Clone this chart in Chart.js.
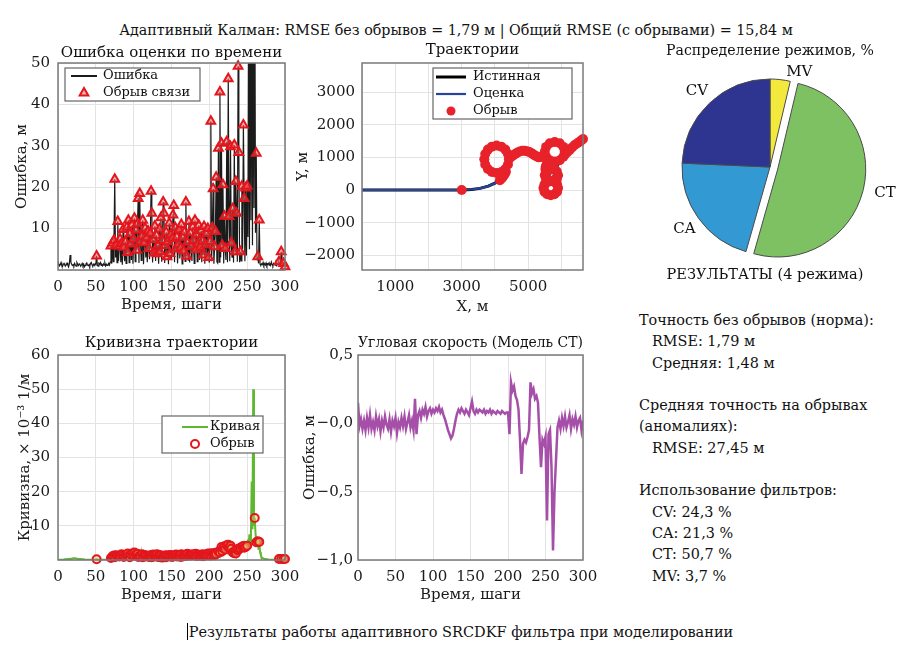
<!DOCTYPE html>
<html lang="ru">
<head>
<meta charset="utf-8">
<title>Результаты адаптивного SRCDKF фильтра</title>
<script src="https://cdn.jsdelivr.net/npm/chart.js@4.4.1/dist/chart.umd.min.js"></script>
<style>
  html, body { margin: 0; padding: 0; background: #fff; }
  body {
    position: relative; width: 912px; height: 656px; overflow: hidden;
    font-family: "DejaVu Serif", "Liberation Serif", serif; color: #111;
  }
  canvas, .txt { position: absolute; }
  .txt { white-space: pre; line-height: 18px; }
  #mainTitle { left: 0; width: 912px; top: 21px; text-align: center; font-size: 14.3px; }
  #pieTitle { left: 640px; width: 260px; top: 41px; text-align: center; font-size: 14.1px; }
  #pieNote { left: 640px; width: 250px; top: 265px; text-align: center; font-size: 14.5px; }
  #stats { left: 639px; top: 310px; font-size: 14.4px; line-height: 21.3px; }
  #stats .ind { padding-left: 13px; }
  #caption { left: 0; width: 920px; top: 623px; text-align: center; font-size: 14.5px; }
  .caret { display: inline-block; width: 1px; height: 17px; background: #000; vertical-align: -3px; margin-right: 1px; }
</style>
</head>
<body>
<div id="mainTitle" class="txt"></div>

<canvas id="errChart" width="300" height="280" style="left:0;top:38px"></canvas>
<canvas id="trajChart" width="310" height="280" style="left:290px;top:38px"></canvas>
<canvas id="pieChart" width="260" height="220" style="left:640px;top:57px"></canvas>
<div id="pieTitle" class="txt">Распределение режимов, %</div>
<div id="pieNote" class="txt">РЕЗУЛЬТАТЫ (4 режима)</div>

<canvas id="curvChart" width="300" height="280" style="left:0;top:328px"></canvas>
<canvas id="omegaChart" width="310" height="280" style="left:290px;top:328px"></canvas>
<div id="stats" class="txt"></div>

<div id="caption" class="txt"><span class="caret"></span>Результаты работы адаптивного SRCDKF фильтра при моделировании</div>

<script>
// summary numbers
const rmseClean = 1.79;
const meanClean = 1.48;
const rmseOutage = 27.45;
const rmseTotal = 15.84;

// filter modes and usage share, %
const modes = ['CV', 'CA', 'CT', 'MV'];
const modeShares = [24.3, 21.3, 50.7, 3.7];
const modeColors = ['#2e3590', '#3399d3', '#7dc163', '#f3e93c'];

// tick values
const stepTicks = [0, 50, 100, 150, 200, 250, 300];
const errTicks = [0, 10, 20, 30, 40, 50];
const trajXTicks = [0, 1000, 2000, 3000, 4000, 5000, 6000];
const trajYTicks = [-2000, -1000, 0, 1000, 2000, 3000];
const curvTicks = [0, 10, 20, 30, 40, 50, 60];
const omegaTicks = [-1, -0.5, 0, 0.5];

// estimation error per step (0..300), m
const errValues = [
  1.2,1.5,1.0,1.3,1.8,1.1,0.9,1.4,1.6,1.2,
  1.0,1.3,1.7,1.2,0.8,1.5,3.6,1.9,1.4,1.1,
  1.3,1.0,1.6,1.2,0.9,1.8,1.4,1.1,1.5,1.3,
  0.9,1.2,1.6,1.0,1.4,0.8,1.1,1.5,1.7,1.2,
  1.0,1.3,0.9,1.6,1.8,1.2,1.0,1.4,1.1,1.5,
  1.3,3.4,1.2,0.9,1.6,1.4,1.8,1.1,1.3,1.0,
  1.5,1.2,1.7,1.0,1.4,1.1,1.3,1.6,1.2,1.9,
  5.8,1.5,6.5,2.0,7.2,21.9,3.0,6.0,1.8,11.7,
  2.2,5.8,7.5,1.9,6.4,1.3,9.8,5.5,2.1,6.8,
  1.6,10.3,4.2,12.0,1.8,8.7,6.3,2.4,10.9,1.5,
  7.4,12.5,2.0,9.6,4.8,11.2,17.3,1.7,18.5,6.9,
  2.3,8.2,12.0,1.4,6.6,10.1,3.0,7.8,1.9,9.4,
  5.2,2.6,8.9,19.0,13.7,1.8,7.3,4.1,10.6,2.2,
  8.4,3.9,6.0,1.5,9.9,4.4,12.6,2.0,7.1,16.4,
  13.7,1.7,5.9,9.1,3.2,6.8,1.4,11.3,4.0,8.5,
  2.5,7.6,13.3,15.6,1.9,10.2,5.1,8.0,1.6,6.2,
  9.7,2.8,5.4,11.0,1.5,7.9,4.6,9.2,2.1,16.4,
  3.3,6.7,2.4,11.7,1.8,9.0,5.7,2.2,10.4,7.2,
  1.6,12.0,4.9,8.6,2.0,6.3,10.8,2.4,5.5,9.5,
  1.9,7.0,3.6,10.5,1.5,6.1,8.8,2.7,10.0,3.0,
  1.8,6.9,35.9,2.1,10.2,19.6,1.5,5.6,9.3,22.4,
  2.0,1.7,29.4,1.9,43.0,3.0,30.6,6.0,20.6,1.6,
  13.0,5.2,2.4,31.0,1.9,46.2,12.9,2.1,29.8,6.5,
  3.1,14.8,1.8,30.2,4.4,21.4,13.7,2.0,49.2,28.4,
  1.9,4.4,2.2,20.2,5.0,35.0,17.3,2.1,19.8,3.5,
  20.3,8.0,62.0,5.0,80.0,12.0,90.0,6.0,75.0,15.0,
  85.0,9.0,28.2,2.5,3.2,1.6,12.1,1.4,1.2,1.5,
  1.3,1.8,1.1,1.5,1.2,1.7,1.0,1.4,1.6,1.2,
  1.5,1.1,1.9,1.3,1.0,1.6,1.4,1.2,1.7,1.1,
  1.4,1.8,2.0,1.3,1.5,4.4,1.2,1.0,1.6,1.3,
  0.8
];

// steps with lost link
const outageSteps = [
  51,
  70,72,74,75,77,79, 81,82,84,86,87,89, 91,92,93,95,96,98,
  100,101,103,104,105,106,108,109, 111,112,114,115,117,119,
  120,122,123,124,126,127,128, 130,131,132,134,135,136,138,139,
  140,142,143,144,145,147,148,149, 151,152,153,155,156,157,159,
  160,162,163,165,166,167,169, 170,171,173,175,176,178,179,
  181,182,183,185,186,188,189, 191,192,193,195,196,198,199,
  201,202,204,205,207,208,209, 212,214,216,217,218,
  220,221,223,225,226,228,229, 231,233,234,235,236,238,239,
  241,243,245,246,248, 250,260,262,264,266,
  292,295,298,300
];

// trajectory curvature per step, x10^-3 1/m
const curvValues = [
  0.1,0.1,0.1,0.1,0.1,0.1,0.1,0.1,0.1,0.2,
  0.2,0.2,0.2,0.3,0.3,0.3,0.3,0.4,0.4,0.4,
  0.5,0.5,0.5,0.5,0.4,0.4,0.4,0.3,0.3,0.3,
  0.3,0.2,0.2,0.2,0.2,0.1,0.1,0.1,0.1,0.1,
  0.1,0.1,0.1,0.1,0.1,0.1,0.1,0.1,0.1,0.1,
  0.1,0.2,0.2,0.1,0.1,0.1,0.1,0.1,0.1,0.1,
  0.1,0.1,0.1,0.1,0.1,0.2,0.2,0.3,0.4,0.6,
  0.6,0.9,1.1,0.7,1.3,0.8,1.0,1.4,0.9,1.2,
  1.6,1.0,1.3,0.8,1.7,1.1,1.4,0.9,1.8,1.2,
  1.0,1.5,1.9,1.1,1.3,0.8,1.6,1.2,1.9,2.1,
  1.4,2.2,1.0,1.6,1.3,1.8,0.9,1.5,1.2,1.0,
  1.4,1.7,0.8,1.2,1.5,1.0,1.6,1.3,0.7,1.1,
  0.9,1.3,1.0,1.5,0.8,1.2,1.6,1.0,1.4,0.9,
  1.2,1.7,0.9,1.1,1.5,0.8,1.3,1.0,0.7,1.2,
  0.9,1.1,1.4,0.8,1.0,1.3,0.7,1.1,1.5,1.0,
  1.2,0.9,1.4,1.1,0.8,1.3,1.6,1.0,1.2,1.5,
  1.1,1.4,0.9,1.7,1.2,1.0,1.5,1.3,0.9,1.6,
  1.2,1.8,1.0,1.4,1.1,1.6,1.3,0.9,1.5,1.7,
  1.1,1.4,1.8,1.2,1.0,1.6,1.3,1.9,1.5,1.2,
  1.4,1.7,1.1,1.5,1.8,1.3,1.6,1.2,1.9,1.4,
  1.6,1.9,1.3,1.7,2.0,1.5,1.8,1.4,2.1,1.7,
  2.0,1.8,2.4,2.9,2.2,3.3,3.8,2.6,3.5,2.4,
  4.0,3.1,2.8,4.3,3.0,4.5,3.6,2.5,4.2,3.3,
  2.5,2.2,2.8,2.0,2.6,1.9,3.1,2.3,2.9,3.4,
  3.0,3.5,2.7,3.9,3.2,4.1,3.6,4.4,3.8,4.6,
  4.2,6.0,4.8,7.5,5.0,8.0,23.0,9.0,50.0,10.0,
  12.3,8.0,5.2,6.0,5.5,3.0,5.3,2.4,1.5,0.8,
  0.6,0.5,0.4,0.3,0.3,0.2,0.2,0.2,0.1,0.1,
  0.1,0.1,0.1,0.1,0.1,0.1,0.1,0.1,0.1,0.1,
  0.1,0.1,0.3,0.2,0.2,0.3,0.2,0.2,0.3,0.2,
  0.3
];

// angular velocity error (CT model), every 2nd step 0..300
const omegaValues = [
  0.15,-0.02,0.03,-0.04,0.02,-0.05,0.04,-0.03,0.06,-0.04,
  0.01,-0.05,0.05,-0.02,0.03,-0.06,0.02,-0.03,0.05,-0.01,
  -0.04,0.03,-0.06,0.02,-0.02,0.04,-0.07,0.01,-0.03,0.04,
  -0.02,0.05,-0.04,0.01,0.06,-0.03,0.02,-0.05,0.18,-0.08,
  0.06,0.09,0.04,0.10,0.07,0.12,0.05,0.09,0.11,0.07,
  0.10,0.08,0.11,0.09,0.12,0.08,0.10,0.06,0.03,-0.01,
  -0.05,-0.08,-0.11,-0.09,-0.04,0.02,0.07,0.10,0.08,0.11,
  0.09,0.07,0.10,0.08,0.06,0.11,0.16,0.09,0.07,0.10,
  0.08,0.10,0.09,0.08,0.10,0.07,0.09,0.08,0.10,0.07,
  0.09,0.08,0.07,0.09,0.08,0.07,0.09,0.08,0.07,0.08,
  0.08,-0.08,0.30,0.24,0.27,0.20,0.17,0.10,-0.12,-0.37,
  -0.15,-0.12,-0.14,-0.10,-0.05,0.30,0.22,0.25,0.18,0.20,
  0.15,-0.10,-0.32,-0.12,-0.15,-0.10,-0.71,-0.08,-0.05,-0.32,
  -0.93,-0.50,-0.27,-0.03,0.02,-0.04,0.04,-0.02,0.05,-0.03,
  0.01,0.06,-0.04,0.03,-0.01,0.05,-0.03,0.02,0.04,-0.05,
  0.02
];

// true trajectory, m
const trueX = [0,1000,2000,3000,3300,3550,3800,4000,4150,4260,4330,
  4392,4420,4392,4312,4192,4050,3908,3788,3708,3680,3708,3788,3908,4050,4192,4312,4392,4420,
  4550,4680,4820,4950,5080,5200,5320,5440,
  5540,5500,5540,5650,5800,5950,6060,6100,6060,5950,5800,5650,
  5560,5520,5560,
  5640,5760,5860,5900,5860,5760,5640,5540,5500,5540,
  5570,5680,5790,5870,5900,5870,5790,5680,5570,5490,5460,5490,
  5600,5750,5850,5950,6100,6250,6400,6550,6650];
const trueY = [0,0,0,0,15,50,120,210,300,430,560,
  779,940,1101,1237,1328,1360,1328,1237,1101,940,779,643,552,520,552,643,779,940,
  1060,1150,1200,1190,1140,1060,1000,1030,
  1020,1170,1320,1430,1470,1430,1320,1170,1020,910,870,910,
  800,650,520,
  260,260,330,450,570,640,640,570,450,330,
  -130,-160,-130,-50,60,170,250,280,250,170,60,-50,
  150,350,700,880,1080,1230,1380,1480,1560];
// filter estimate coincides with the truth at this scale
const estX = trueX;
const estY = trueY;

// positions where the link was lost, m
const outX = [3000,
  4150,4210,4260,4300,4330,
  4392,4420,4392,4312,4192,4050,3908,3788,3708,3680,3708,3788,3908,4050,4192,4312,
  4480,4550,4620,4680,4750,4820,4890,4950,5020,5080,5140,5200,5260,5320,5380,5440,
  5540,5500,5540,5650,5800,5950,6060,6100,6060,5950,5800,5650,
  5600,5560,5530,5520,5530,5560,
  5640,5760,5860,5900,5860,5760,5640,5540,5500,5540,
  5570,5680,5790,5870,5900,5870,5790,5680,5570,5490,5460,5490,
  6100,6170,6250,6320,6400,6480,6550,6600,6650];
const outY = [0,
  300,360,430,500,560,
  779,940,1101,1237,1328,1360,1328,1237,1101,940,779,643,552,520,552,643,
  1010,1060,1110,1150,1180,1200,1200,1190,1170,1140,1100,1060,1025,1000,1010,1030,
  1020,1170,1320,1430,1470,1430,1320,1170,1020,910,870,910,
  860,800,720,650,580,520,
  260,260,330,450,570,640,640,570,450,330,
  -130,-160,-130,-50,60,170,250,280,250,170,60,-50,
  1080,1150,1230,1300,1380,1430,1480,1520,1560];

const comma = v => String(v).replace('.', ',');

document.getElementById('mainTitle').textContent =
  'Адаптивный Калман: RMSE без обрывов = ' + comma(rmseClean.toFixed(2)) +
  ' м | Общий RMSE (с обрывами) = ' + comma(rmseTotal.toFixed(2)) + ' м';

const statLines = [
  'Точность без обрывов (норма):',
  '<span class="ind">RMSE: ' + comma(rmseClean.toFixed(2)) + ' м</span>',
  '<span class="ind">Средняя: ' + comma(meanClean.toFixed(2)) + ' м</span>',
  '',
  'Средняя точность на обрывах',
  '(аномалиях):',
  '<span class="ind">RMSE: ' + comma(rmseOutage.toFixed(2)) + ' м</span>',
  '',
  'Использование фильтров:'
].concat(modes.map((m, i) => '<span class="ind">' + m + ': ' + comma(modeShares[i].toFixed(1)) + ' %</span>'));
document.getElementById('stats').innerHTML = statLines.join('\n');

Chart.defaults.font.family = '"DejaVu Serif", "Liberation Serif", serif';
Chart.defaults.font.size = 15;
Chart.defaults.color = '#1a1a1a';
Chart.defaults.animation = false;

// MATLAB-like box around the plot area
const framePlugin = {
  id: 'frame',
  afterDraw(chart) {
    const a = chart.chartArea, ctx = chart.ctx;
    ctx.save();
    ctx.strokeStyle = '#7a7a7a';
    ctx.lineWidth = 1.5;
    ctx.strokeRect(a.left, a.top, a.right - a.left, a.bottom - a.top);
    ctx.restore();
  }
};

// boxed legend inside the plot area
const boxLegend = {
  id: 'boxLegend',
  afterDraw(chart, args, o) {
    if (!o || !o.items) return;
    const ctx = chart.ctx, a = chart.chartArea;
    const x = a.left + o.x, y = a.top + o.y;
    ctx.save();
    ctx.fillStyle = '#fff';
    ctx.fillRect(x, y, o.w, o.h);
    ctx.strokeStyle = '#666';
    ctx.lineWidth = 1.2;
    ctx.strokeRect(x, y, o.w, o.h);
    ctx.font = '13px "DejaVu Serif", serif';
    ctx.textBaseline = 'middle';
    o.items.forEach((it, i) => {
      const cy = y + o.rowTop + i * o.rowH;
      const sx = x + o.sampleX;
      ctx.strokeStyle = it.color;
      if (it.kind === 'line') {
        ctx.lineWidth = it.width;
        ctx.beginPath();
        ctx.moveTo(sx - o.half, cy);
        ctx.lineTo(sx + o.half, cy);
        ctx.stroke();
      } else {
        ctx.fillStyle = it.fill;
        ctx.lineWidth = it.width;
        Chart.helpers.drawPoint(ctx, {pointStyle: it.style, radius: it.radius, borderWidth: it.width, rotation: 0}, sx, cy);
      }
      ctx.fillStyle = '#111';
      ctx.fillText(it.label, x + o.textX, cy);
    });
    ctx.restore();
  }
};

function axis(o) {
  return {
    type: 'linear',
    min: o.min,
    max: o.max,
    grid: { color: '#e3e3e3', drawTicks: false },
    border: { display: false },
    ticks: {
      padding: o.tickPad, autoSkip: false, maxRotation: 0,
      callback: o.fmt, color: '#1a1a1a', font: { size: 15 }
    },
    title: { display: true, text: o.title, padding: o.titlePad, color: '#1a1a1a', font: { size: 15 } },
    afterBuildTicks(s) {
      s.ticks = o.ticks.map(v => ({ value: v }));
    },
    afterFit(s) {
      if (s.isHorizontal()) s.height = o.size; else s.width = o.size;
      s.paddingLeft = 0; s.paddingRight = 0; s.paddingTop = 0; s.paddingBottom = 0;
    }
  };
}

const stepAxis = () => axis({
  min: 0, max: 300, ticks: stepTicks, tickPad: 8, size: 48,
  fmt: v => v, title: 'Время, шаги', titlePad: { bottom: 4 }
});

function titleOpt(text, top, bottom) {
  return {
    display: true, fullSize: false, text, color: '#111',
    font: { size: 15, weight: 'normal' }, padding: { top, bottom }
  };
}

// 1. error over time
new Chart(document.getElementById('errChart'), {
  type: 'scatter',
  data: {
    datasets: [
      {
        label: 'Обрыв связи',
        data: outageSteps.map(s => ({ x: s, y: errValues[s] })),
        pointStyle: 'triangle', pointRadius: 5, pointBorderWidth: 2,
        pointBorderColor: '#e3161d', pointBackgroundColor: 'rgba(240,110,110,0.55)',
        clip: 8
      },
      {
        label: 'Ошибка',
        data: errValues.map((v, i) => ({ x: i, y: v })),
        showLine: true, borderColor: '#1b1b1b', borderWidth: 1.2, pointRadius: 0
      }
    ]
  },
  options: {
    responsive: false,
    layout: { padding: { left: 0, right: 15, top: 0, bottom: 0 } },
    plugins: {
      legend: { display: false },
      tooltip: { enabled: false },
      title: titleOpt('Ошибка оценки по времени', 6, 1),
      boxLegend: {
        x: 7, y: 5, w: 135, h: 33, rowTop: 8, rowH: 17, sampleX: 19, half: 13, textX: 38,
        items: [
          { kind: 'line', label: 'Ошибка', color: '#1b1b1b', width: 2 },
          { kind: 'point', label: 'Обрыв связи', style: 'triangle', radius: 5, width: 2, color: '#e3161d', fill: 'rgba(240,110,110,0.55)' }
        ]
      }
    },
    scales: {
      x: stepAxis(),
      y: axis({
        min: 0, max: 50, ticks: errTicks, tickPad: 8, size: 58,
        fmt: v => (v === 0 ? '' : v), title: 'Ошибка, м', titlePad: { top: 12.7 }
      })
    }
  },
  plugins: [framePlugin, boxLegend]
});

// 2. trajectories
new Chart(document.getElementById('trajChart'), {
  type: 'scatter',
  data: {
    datasets: [
      {
        label: 'Обрыв',
        data: outX.map((x, i) => ({ x, y: outY[i] })),
        pointRadius: 5, pointBorderWidth: 0, pointBackgroundColor: '#e8222a', clip: 6
      },
      {
        label: 'Оценка',
        data: estX.map((x, i) => ({ x, y: estY[i] })),
        showLine: true, borderColor: '#25449e', borderWidth: 2.2, pointRadius: 0
      },
      {
        label: 'Истинная',
        data: trueX.map((x, i) => ({ x, y: trueY[i] })),
        showLine: true, borderColor: '#000', borderWidth: 3, pointRadius: 0
      }
    ]
  },
  options: {
    responsive: false,
    layout: { padding: { left: 0, right: 17, top: 0, bottom: 0 } },
    plugins: {
      legend: { display: false },
      tooltip: { enabled: false },
      title: titleOpt('Траектории', 3, 4),
      boxLegend: {
        x: 71, y: 5, w: 139, h: 51, rowTop: 9, rowH: 17, sampleX: 18, half: 15, textX: 40,
        items: [
          { kind: 'line', label: 'Истинная', color: '#000', width: 3 },
          { kind: 'line', label: 'Оценка', color: '#25449e', width: 2.2 },
          { kind: 'point', label: 'Обрыв', style: 'circle', radius: 4.5, width: 0, color: '#e8222a', fill: '#e8222a' }
        ]
      }
    },
    scales: {
      x: axis({
        min: 0, max: 6650, ticks: trajXTicks, tickPad: 8, size: 48,
        fmt: v => ((v / 1000) % 2 === 1 ? v : ''), title: 'X, м', titlePad: { bottom: 2 }
      }),
      y: axis({
        min: -2450, max: 3890, ticks: trajYTicks, tickPad: 7, size: 72,
        fmt: v => (v < 0 ? '−' + Math.abs(v) : String(v)), title: 'Y, м', titlePad: { top: 4 }
      })
    }
  },
  plugins: [framePlugin, boxLegend]
});

// 3. mode distribution pie (drawn clockwise from the top: MV, CT, CA, CV)
const pieLabels = modes.slice().reverse();
const pieValues = modeShares.slice().reverse();
const pieColors = modeColors.slice().reverse();

const explodePlugin = {
  id: 'explode',
  afterDatasetUpdate(chart, args, o) {
    args.meta.data.forEach((arc, i) => {
      const d = o.dist[chart.data.labels[i]] || 0;
      if (!d) return;
      const mid = (arc.startAngle + arc.endAngle) / 2;
      arc.x += Math.cos(mid) * d;
      arc.y += Math.sin(mid) * d;
    });
  }
};

const sliceLabels = {
  id: 'sliceLabels',
  afterDatasetsDraw(chart, args, o) {
    const ctx = chart.ctx;
    ctx.save();
    ctx.font = '15px "DejaVu Serif", serif';
    ctx.fillStyle = '#111';
    ctx.textAlign = 'center';
    ctx.textBaseline = 'middle';
    chart.getDatasetMeta(0).data.forEach((arc, i) => {
      const name = chart.data.labels[i];
      const mid = (arc.startAngle + arc.endAngle) / 2;
      const r = arc.outerRadius * 1.2;
      const n = o.nudge[name] || [0, 0];
      ctx.fillText(name, arc.x + Math.cos(mid) * r + n[0], arc.y + Math.sin(mid) * r + n[1]);
    });
    ctx.restore();
  }
};

new Chart(document.getElementById('pieChart'), {
  type: 'pie',
  data: {
    labels: pieLabels,
    datasets: [{
      data: pieValues,
      backgroundColor: pieColors,
      borderColor: '#4a4a4a',
      borderWidth: 1
    }]
  },
  options: {
    responsive: false,
    radius: 88,
    layout: { padding: 0 },
    plugins: {
      legend: { display: false },
      tooltip: { enabled: false },
      explode: { dist: { CT: 8 } },
      sliceLabels: { nudge: { MV: [17, 10], CT: [5, -2] } }
    }
  },
  plugins: [explodePlugin, sliceLabels]
});

// 4. trajectory curvature
new Chart(document.getElementById('curvChart'), {
  type: 'scatter',
  data: {
    datasets: [
      {
        label: 'Обрыв',
        data: outageSteps.map(s => ({ x: s, y: curvValues[s] })),
        pointStyle: 'circle', pointRadius: 4, pointBorderWidth: 2,
        pointBorderColor: '#e3161d', pointBackgroundColor: 'rgba(235,190,110,0.45)',
        clip: 6
      },
      {
        label: 'Кривая',
        data: curvValues.map((v, i) => ({ x: i, y: v })),
        showLine: true, borderColor: '#5db830', borderWidth: 2, pointRadius: 0
      }
    ]
  },
  options: {
    responsive: false,
    layout: { padding: { left: 0, right: 15, top: 0, bottom: 0 } },
    plugins: {
      legend: { display: false },
      tooltip: { enabled: false },
      title: titleOpt('Кривизна траектории', 6, 3),
      boxLegend: {
        x: 104, y: 61, w: 101, h: 37, rowTop: 11, rowH: 17, sampleX: 33, half: 13, textX: 48,
        items: [
          { kind: 'line', label: 'Кривая', color: '#5db830', width: 2 },
          { kind: 'point', label: 'Обрыв', style: 'circle', radius: 4, width: 2, color: '#e3161d', fill: '#fff' }
        ]
      }
    },
    scales: {
      x: stepAxis(),
      y: axis({
        min: 0, max: 60, ticks: curvTicks, tickPad: 8, size: 58,
        fmt: v => (v === 0 ? '' : v), title: 'Кривизна, × 10⁻³ 1/м', titlePad: { top: 16 }
      })
    }
  },
  plugins: [framePlugin, boxLegend]
});

// 5. angular velocity error
new Chart(document.getElementById('omegaChart'), {
  type: 'scatter',
  data: {
    datasets: [{
      label: 'ω',
      data: omegaValues.map((v, i) => ({ x: i * 2, y: v })),
      showLine: true, borderColor: '#a64fa9', borderWidth: 2.5, pointRadius: 0
    }]
  },
  options: {
    responsive: false,
    layout: { padding: { left: 0, right: 17, top: 0, bottom: 0 } },
    plugins: {
      legend: { display: false },
      tooltip: { enabled: false },
      title: titleOpt('Угловая скорость (Модель CT)', 6, 3)
    },
    scales: {
      x: stepAxis(),
      y: axis({
        min: -1, max: 0.5, ticks: omegaTicks, tickPad: 5, size: 68,
        fmt: v => (v > 0 ? '' : '−') + comma(Math.abs(v).toFixed(1)),
        title: 'Ошибка, м', titlePad: { top: 11 }
      })
    }
  },
  plugins: [framePlugin]
});
</script>
</body>
</html>
